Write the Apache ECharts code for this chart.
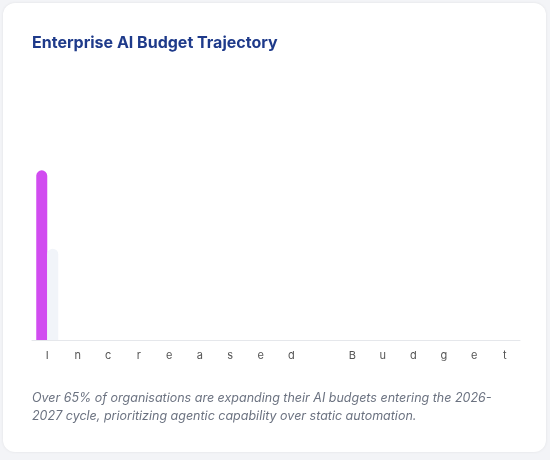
<!DOCTYPE html><html><head><meta charset="utf-8">
<script src="https://cdn.jsdelivr.net/npm/echarts@6/dist/echarts.min.js"></script>
<style>
body{margin:0;background:#f3f4f7;font-family:Inter,sans-serif}
#card{position:absolute;left:3px;top:3px;width:543px;height:449px;background:#fff;border-radius:12px;box-shadow:0 0 3px rgba(0,0,0,0.08)}
#c{position:absolute;left:0;top:0;width:550px;height:460px}
</style></head><body><div id="card"></div><div id="c"></div>
<script>
const categories = "Increased Budget".split("");
const primaryValues = [65];
const secondaryValues = [35];
const chart = echarts.init(document.getElementById('c'));
chart.setOption({
  title:{text:'Enterprise AI Budget Trajectory',left:27,top:30,textStyle:{fontFamily:'Inter',fontSize:16,fontWeight:'bold',color:'#1e3a8a'}},
  grid:{left:32,right:30,top:79,bottom:120},
  xAxis:{type:'category',data:categories,axisTick:{show:false},
    axisLine:{lineStyle:{color:'#e5e7eb'}},
    axisLabel:{color:'#555',fontSize:11,fontFamily:'Inter',margin:10,interval:0}},
  yAxis:{type:'value',min:0,max:100,show:false},
  series:[
    {type:'bar',data:primaryValues,barWidth:11,barGap:'0%',itemStyle:{color:'#d14cf0',borderRadius:[6,6,0,0]}},
    {type:'bar',data:secondaryValues,barWidth:11,itemStyle:{color:'#f1f4f9',borderRadius:[6,6,0,0]}}
  ],
  graphic:[{type:'text',left:32,top:389,style:{text:'Over 65% of organisations are expanding their AI budgets entering the 2026-\n2027 cycle, prioritizing agentic capability over static automation.',
    font:'italic 12.5px Inter',fill:'#6b7280',lineHeight:18}}]
});
</script></body></html>
